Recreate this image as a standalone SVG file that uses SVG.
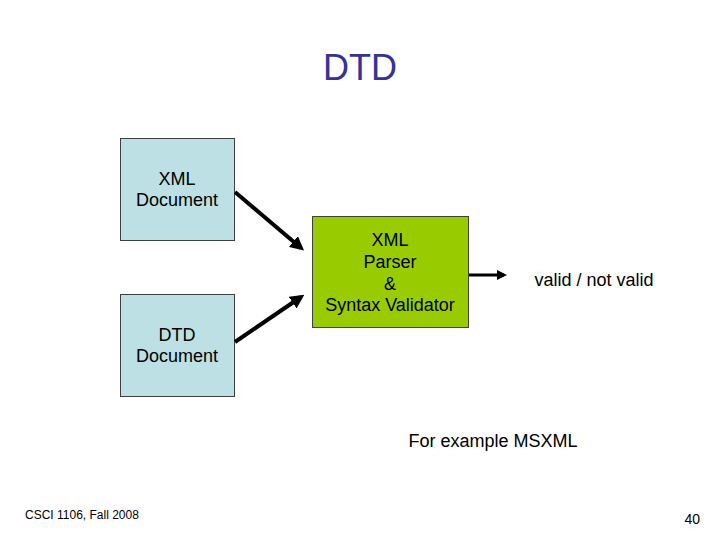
<svg xmlns="http://www.w3.org/2000/svg" width="720" height="540" viewBox="0 0 720 540">
<style>
text{font-family:"Liberation Sans",Arial,sans-serif;fill:#000}
.lbl{font-size:18px;text-anchor:middle}
.doc{fill:#bde0e4;stroke:#404040;stroke-width:1}
.conn{stroke:#000;stroke-width:4;fill:none;marker-end:url(#ah)}
</style>
<defs>
<marker id="ah" markerWidth="3.5" markerHeight="3.5" refX="2.5" refY="1.75" orient="auto" markerUnits="strokeWidth">
<path d="M0,0 L3.5,1.75 L0,3.5 Z" fill="#000"/>
</marker>
</defs>
<rect width="720" height="540" fill="#fff"/>
<text x="360" y="80" font-size="36" text-anchor="middle" style="fill:#333399">DTD</text>
<g id="xml-doc">
<rect class="doc" x="120.5" y="138.5" width="114" height="102"/>
<text class="lbl" x="177" y="185">XML</text>
<text class="lbl" x="177" y="206">Document</text>
</g>
<g id="dtd-doc">
<rect class="doc" x="120.5" y="294.5" width="114" height="102"/>
<text class="lbl" x="177" y="341">DTD</text>
<text class="lbl" x="177" y="362">Document</text>
</g>
<g id="parser">
<rect x="312.5" y="216.5" width="156" height="111" fill="#99cc00" stroke="#404040" stroke-width="1"/>
<text class="lbl" x="390" y="246">XML</text>
<text class="lbl" x="390" y="268">Parser</text>
<text class="lbl" x="390" y="290">&amp;</text>
<text class="lbl" x="390" y="311">Syntax Validator</text>
</g>
<g id="result">
<text class="lbl" x="594" y="286">valid / not valid</text>
</g>
<g id="connectors">
<line class="conn" x1="235" y1="192" x2="301" y2="248"/>
<line class="conn" x1="235" y1="342" x2="301" y2="297"/>
<line class="conn" x1="469" y1="275" x2="504" y2="275" style="stroke-width:3"/>
</g>
<text x="493" y="447" font-size="18" text-anchor="middle">For example MSXML</text>
<text x="25" y="519" font-size="12">CSCI 1106, Fall 2008</text>
<text x="700" y="524" font-size="14" text-anchor="end">40</text>
</svg>
